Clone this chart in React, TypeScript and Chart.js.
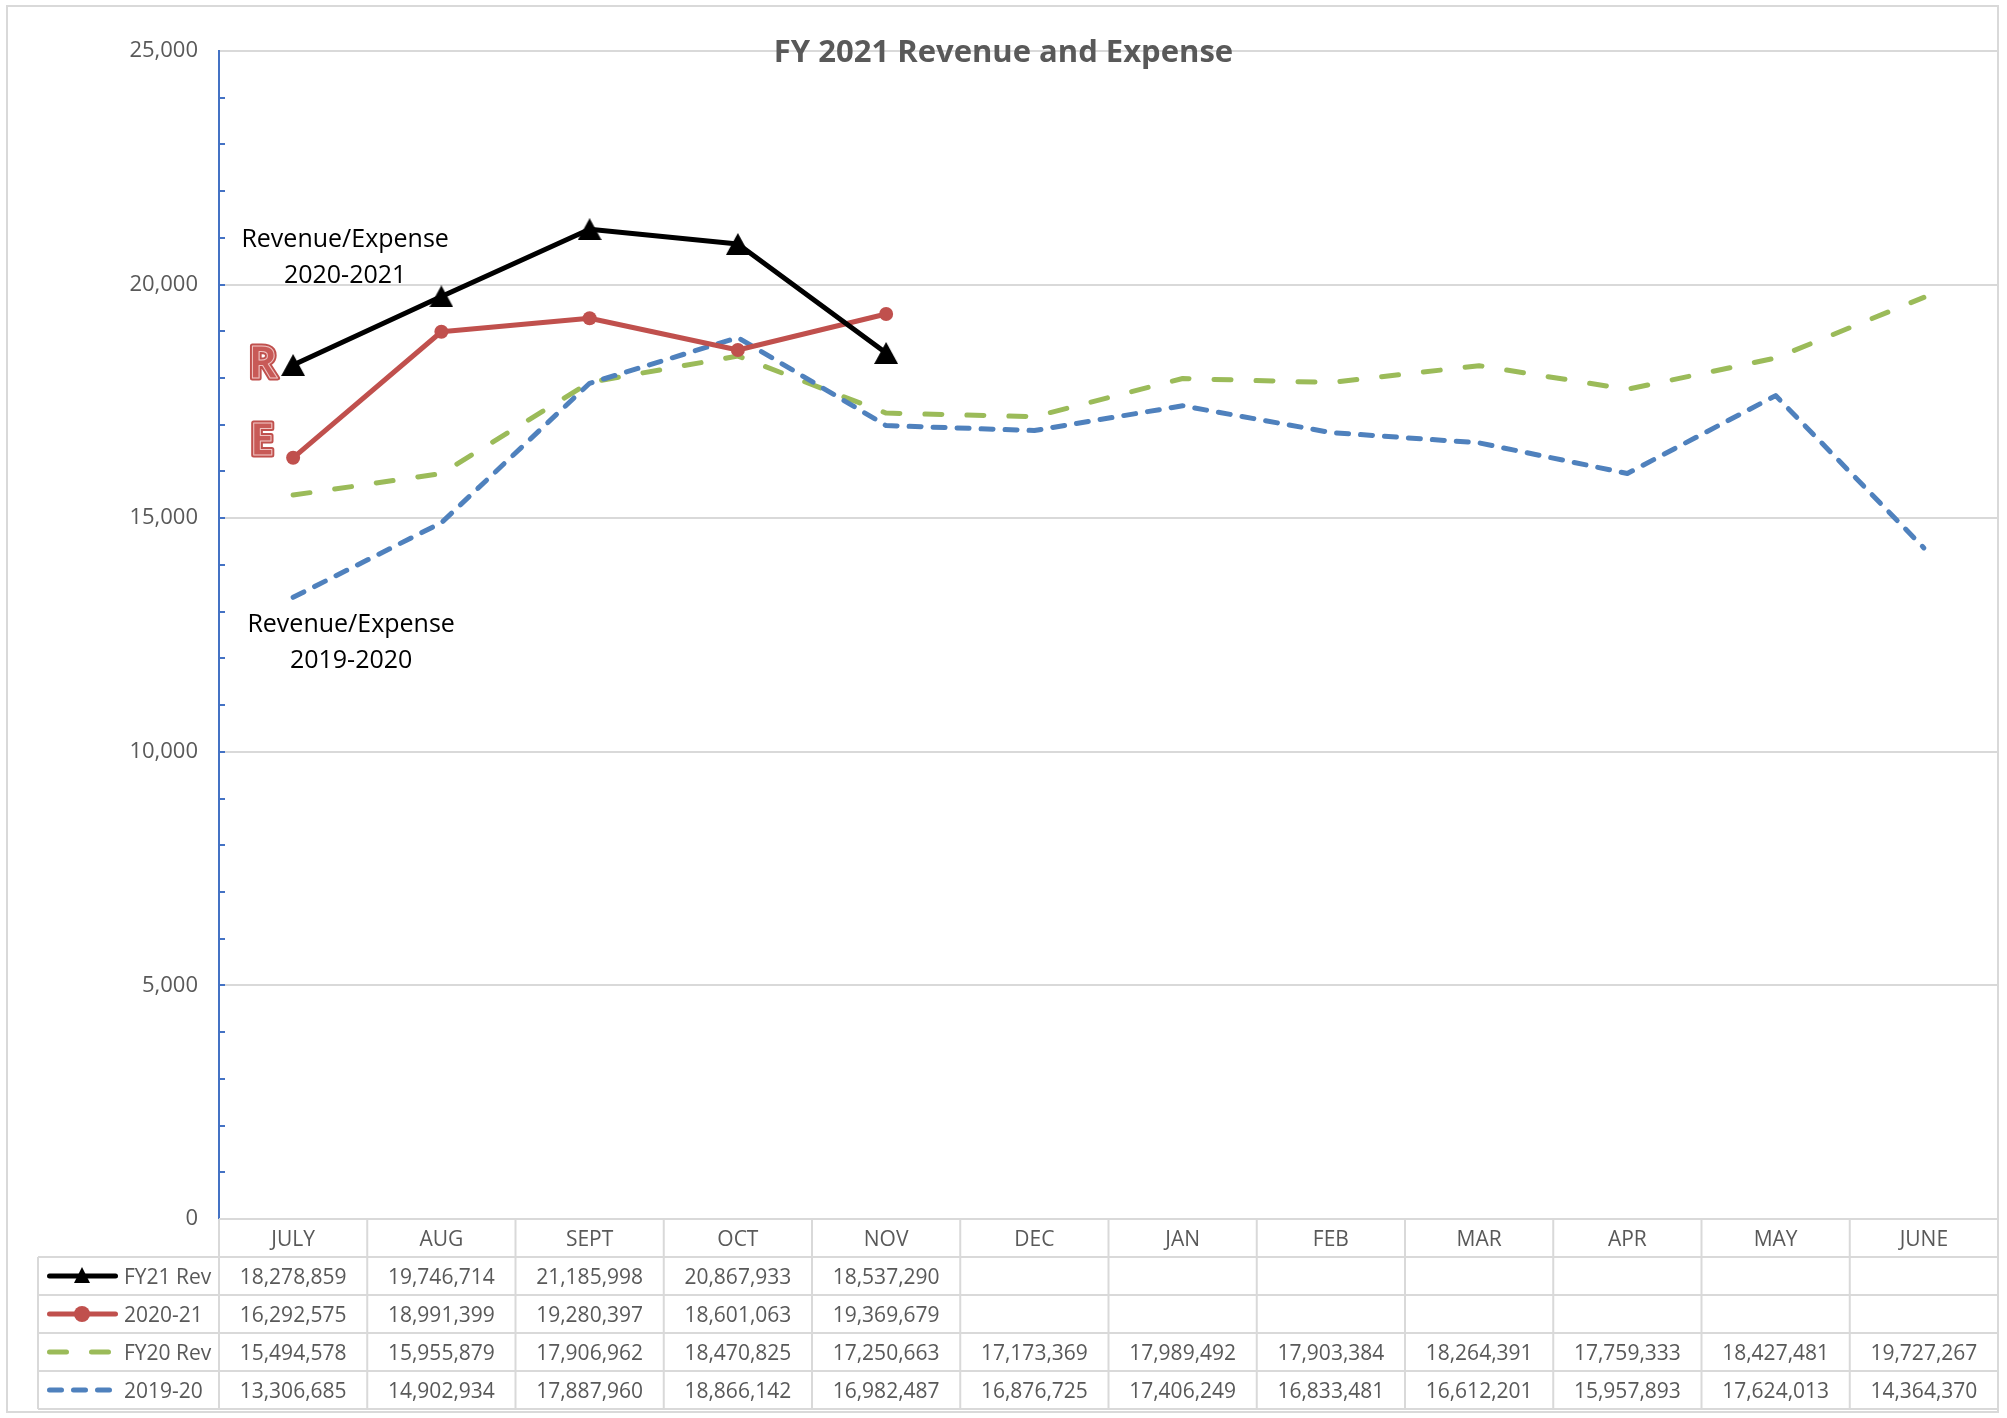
import React, { useEffect, useRef } from 'react';
import { Chart, registerables } from 'chart.js';

Chart.register(...registerables);

// ---------- data ----------
const months = ['JULY', 'AUG', 'SEPT', 'OCT', 'NOV', 'DEC', 'JAN', 'FEB', 'MAR', 'APR', 'MAY', 'JUNE'];
const fy21Rev = [18278859, 19746714, 21185998, 20867933, 18537290];
const exp2020_21 = [16292575, 18991399, 19280397, 18601063, 19369679];
const fy20Rev = [15494578, 15955879, 17906962, 18470825, 17250663, 17173369, 17989492, 17903384, 18264391, 17759333, 18427481, 19727267];
const exp2019_20 = [13306685, 14902934, 17887960, 18866142, 16982487, 16876725, 17406249, 16833481, 16612201, 15957893, 17624013, 14364370];
const seriesNames = ['FY21 Rev', '2020-21', 'FY20 Rev', '2019-20'];
const yTickValues = [0, 5000, 10000, 15000, 20000, 25000];
const titleText = 'FY 2021 Revenue and Expense';
const note1 = ['Revenue/Expense', '2020-2021'];
const note2 = ['Revenue/Expense', '2019-2020'];

// ---------- styles ----------
const COLORS = ['#000000', '#C0504D', '#9BBB59', '#4F81BD'];
const GRID = '#D9D9D9';
const TEXT = '#595959';
const FONT = "'Open Sans', 'DejaVu Sans', sans-serif";

const toK = (v: number) => v / 1000;
const fmt = (v: number) => v.toLocaleString('en-US');

function makeTriangle(w: number, h: number, color: string) {
  const c = document.createElement('canvas');
  c.width = w;
  c.height = h;
  const g = c.getContext('2d')!;
  g.fillStyle = color;
  g.beginPath();
  g.moveTo(w / 2, 0);
  g.lineTo(w, h);
  g.lineTo(0, h);
  g.closePath();
  g.fill();
  return c;
}

const tablePlugin = {
  id: 'excelTable',
  beforeDraw(chart: any) {
    const { ctx, width, height } = chart;
    ctx.save();
    ctx.fillStyle = '#ffffff';
    ctx.fillRect(0, 0, width, height);
    ctx.strokeStyle = GRID;
    ctx.lineWidth = 2;
    ctx.strokeRect(7, 6, width - 16, height - 12);
    ctx.restore();
  },
  afterDraw(chart: any) {
    const { ctx, chartArea } = chart;
    const yS = chart.scales.y;
    const xS = chart.scales.x;
    const n = months.length;
    const band = (chartArea.right - chartArea.left) / n;
    const top = chartArea.bottom;
    const rowH = 38;
    const tableLeft = 38;
    const rows = [fy21Rev, exp2020_21, fy20Rev, exp2019_20];

    ctx.save();
    // minor ticks on y axis
    ctx.strokeStyle = '#4472C4';
    ctx.lineWidth = 2;
    for (let v = 1000; v < 25000; v += 1000) {
      const y = Math.round(yS.getPixelForValue(v));
      ctx.beginPath();
      ctx.moveTo(chartArea.left, y);
      ctx.lineTo(chartArea.left + 6, y);
      ctx.stroke();
    }

    // table grid
    ctx.strokeStyle = GRID;
    ctx.lineWidth = 2;
    const line = (x1: number, y1: number, x2: number, y2: number) => {
      ctx.beginPath();
      ctx.moveTo(x1, y1);
      ctx.lineTo(x2, y2);
      ctx.stroke();
    };
    line(chartArea.left, top, chartArea.right, top);
    for (let r = 1; r <= rows.length + 1; r++) {
      line(tableLeft, top + r * rowH, chartArea.right, top + r * rowH);
    }
    for (let i = 0; i <= n; i++) {
      const x = chartArea.left + i * band;
      line(x, top, x, top + (rows.length + 1) * rowH);
    }
    line(tableLeft, top + rowH, tableLeft, top + (rows.length + 1) * rowH);

    // header labels
    ctx.fillStyle = TEXT;
    ctx.font = `21px ${FONT}`;
    ctx.textAlign = 'center';
    ctx.textBaseline = 'alphabetic';
    months.forEach((m, i) => {
      ctx.fillText(m, xS.getPixelForValue(i), top + rowH / 2 + 7.5);
    });
    // values
    rows.forEach((arr, r) => {
      const cy = top + rowH * (r + 1) + rowH / 2;
      arr.forEach((v, i) => {
        ctx.fillText(fmt(v), xS.getPixelForValue(i), cy + 7.5);
      });
    });

    // legend keys
    rows.forEach((_, r) => {
      const cy = top + rowH * (r + 1) + rowH / 2;
      ctx.save();
      ctx.strokeStyle = COLORS[r];
      ctx.fillStyle = COLORS[r];
      ctx.lineWidth = 5;
      ctx.lineCap = 'round';
      if (r === 2) ctx.setLineDash([17, 25]);
      if (r === 3) ctx.setLineDash([12, 12]);
      ctx.beginPath();
      ctx.moveTo(49.5, cy);
      ctx.lineTo(115.5, cy);
      ctx.stroke();
      ctx.setLineDash([]);
      if (r === 0) {
        ctx.beginPath();
        ctx.moveTo(82, cy - 9);
        ctx.lineTo(90, cy + 7);
        ctx.lineTo(74, cy + 7);
        ctx.closePath();
        ctx.fill();
      } else if (r === 1) {
        ctx.beginPath();
        ctx.arc(82, cy, 8, 0, Math.PI * 2);
        ctx.fill();
      }
      ctx.restore();
      ctx.fillStyle = TEXT;
      ctx.font = `21px ${FONT}`;
      ctx.textAlign = 'left';
      ctx.fillText(seriesNames[r], 124, cy + 7.5);
    });

    // title
    ctx.fillStyle = TEXT;
    ctx.font = `bold 31px ${FONT}`;
    ctx.textAlign = 'center';
    ctx.fillText(titleText, chart.width / 2, yS.getPixelForValue(25000) + 11);

    // notes
    ctx.fillStyle = '#000000';
    ctx.font = `25px ${FONT}`;
    const x0 = xS.getPixelForValue(0);
    const n1y = yS.getPixelForValue(21000);
    ctx.fillText(note1[0], x0 + 52, n1y + 9);
    ctx.fillText(note1[1], x0 + 52, n1y + 45);
    const n2y = yS.getPixelForValue(12750);
    ctx.fillText(note2[0], x0 + 58, n2y + 9);
    ctx.fillText(note2[1], x0 + 58, n2y + 45);

    // R / E labels
    ctx.font = `bold 44px ${FONT}`;
    ctx.lineJoin = 'round';
    const drawLetter = (ch: string, x: number, y: number) => {
      ctx.lineWidth = 5;
      ctx.strokeStyle = '#C0504D';
      ctx.strokeText(ch, x, y);
      ctx.fillStyle = '#C85A57';
      ctx.fillText(ch, x, y);
      ctx.lineWidth = 1;
      ctx.strokeStyle = '#F0C4C3';
      ctx.strokeText(ch, x, y);
    };
    drawLetter('R', x0 - 30, yS.getPixelForValue(18340) + 16);
    drawLetter('E', x0 - 31, yS.getPixelForValue(16690) + 16);
    ctx.restore();
  },
};

export default function App() {
  const ref = useRef<HTMLCanvasElement>(null);

  useEffect(() => {
    document.body.style.margin = '0';
    const canvas = ref.current!;
    const tri = makeTriangle(24, 22, COLORS[0]);
    const chart = new Chart(canvas, {
      type: 'line',
      data: {
        labels: months,
        datasets: [
          {
            label: seriesNames[0],
            data: fy21Rev.map(toK),
            borderColor: COLORS[0],
            backgroundColor: COLORS[0],
            borderWidth: 5,
            borderJoinStyle: 'round',
            pointStyle: tri as any,
            pointRadius: 12,
            tension: 0,
            order: 0,
          },
          {
            label: seriesNames[1],
            data: exp2020_21.map(toK),
            borderColor: COLORS[1],
            backgroundColor: COLORS[1],
            borderWidth: 5,
            borderJoinStyle: 'round',
            pointStyle: 'circle',
            pointRadius: 7,
            pointBorderWidth: 0,
            tension: 0,
            order: 1,
          },
          {
            label: seriesNames[2],
            data: fy20Rev.map(toK),
            borderColor: COLORS[2],
            backgroundColor: COLORS[2],
            borderWidth: 5,
            borderDash: [17, 25],
            borderCapStyle: 'round',
            borderJoinStyle: 'round',
            pointRadius: 0,
            tension: 0,
            order: 3,
          },
          {
            label: seriesNames[3],
            data: exp2019_20.map(toK),
            borderColor: COLORS[3],
            backgroundColor: COLORS[3],
            borderWidth: 5,
            borderDash: [12, 12],
            borderCapStyle: 'round',
            borderJoinStyle: 'round',
            pointRadius: 0,
            tension: 0,
            order: 2,
          },
        ],
      },
      options: {
        responsive: false,
        animation: false,
        devicePixelRatio: 1,
        events: [],
        layout: { autoPadding: false, padding: { left: 0, top: 51, right: 9, bottom: 199 } },
        plugins: {
          legend: { display: false },
          title: { display: false },
          tooltip: { enabled: false },
        },
        scales: {
          x: { type: 'category', offset: true, display: false },
          y: {
            min: 0,
            max: 25000,
            afterFit: (s: any) => {
              s.width = 219;
            },
            afterBuildTicks: (s: any) => {
              s.ticks = yTickValues.map((v) => ({ value: v }));
            },
            border: { display: true, color: '#4472C4', width: 2 },
            grid: { color: GRID, lineWidth: 2, drawTicks: false },
            ticks: {
              padding: 21,
              color: TEXT,
              font: { family: FONT, size: 22 },
              callback: (v: any) => fmt(Number(v)),
            },
          },
        },
      },
      plugins: [tablePlugin],
    });
    return () => chart.destroy();
  }, []);

  return (
    <div style={{ width: 2007, height: 1418 }}>
      <canvas ref={ref} width={2007} height={1418} style={{ display: 'block', width: 2007, height: 1418 }} />
    </div>
  );
}
